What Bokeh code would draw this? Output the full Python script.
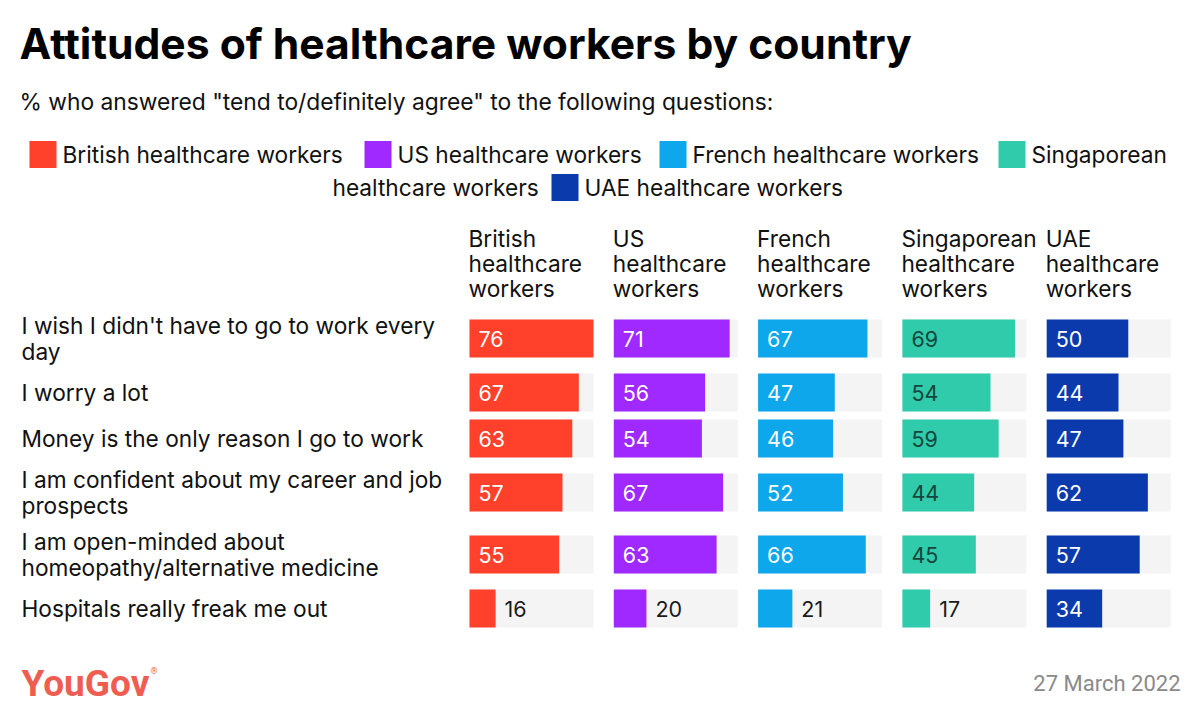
from bokeh.plotting import figure
from bokeh.models import Range1d, ColumnDataSource
from bokeh.core.properties import value
from bokeh.embed import file_html
from bokeh.resources import INLINE

# ---------------- data ----------------
title = "Attitudes of healthcare workers by country"
subtitle = '% who answered "tend to/definitely agree" to the following questions:'
statements = [
    "I wish I didn't have to go to work every\nday",
    "I worry a lot",
    "Money is the only reason I go to work",
    "I am confident about my career and job\nprospects",
    "I am open-minded about\nhomeopathy/alternative medicine",
    "Hospitals really freak me out",
]
groups = ["British healthcare workers", "US healthcare workers", "French healthcare workers",
          "Singaporean healthcare workers", "UAE healthcare workers"]
headers = ["British\nhealthcare\nworkers", "US\nhealthcare\nworkers", "French\nhealthcare\nworkers",
           "Singaporean\nhealthcare\nworkers", "UAE\nhealthcare\nworkers"]
british = [76, 67, 63, 57, 55, 16]
us = [71, 56, 54, 67, 63, 20]
french = [67, 47, 46, 52, 66, 21]
singaporean = [69, 54, 59, 44, 45, 17]
uae = [50, 44, 47, 62, 57, 34]
series = [british, us, french, singaporean, uae]
colors = ["#ff412c", "#9f29ff", "#0ea7ec", "#2fcbab", "#0a3aab"]
label_colors = ["white", "white", "white", "#17453b", "white"]
date_text = "27 March 2022"

# ---------------- layout (pixel space) ----------------
W, H = 1184, 705
FONT = "Inter"
BODY = 22.7
p = figure(width=W, height=H, output_backend="svg", toolbar_location=None,
           x_range=Range1d(0, W), y_range=Range1d(H, 0),
           min_border=0, outline_line_color=None)
p.axis.visible = False
p.grid.visible = False
p.background_fill_color = "white"
p.border_fill_color = "white"

def txt(x, y, s, size, color="#111111", align="left", style="normal", font=FONT, lh=None):
    lines = s.split("\n")
    lh = lh or size * 1.22
    n = len(lines)
    xs, ys = [], []
    for i, ln in enumerate(lines):
        xs.append(x)
        ys.append(y + (i - (n - 1) / 2) * lh)
    p.text(x=xs, y=ys, text=lines, text_font=value(font), text_font_size=f"{size}px",
           text_color=color, text_align=align, text_baseline="middle", text_font_style=style)

# title & subtitle
txt(19, 43, title, 42.6, color="#000000", style="bold", font="Inter")
txt(19, 101, subtitle, 22.8)

# legend (wrapped like the reference)
leg_sq = 27
leg_items = [
    (29, 154, 0, groups[0]), (364, 154, 1, groups[1]), (659, 154, 2, groups[2]),
    (998, 154, 3, "Singaporean"), (551, 187, 4, groups[4]),
]
for x, y, k, lab in leg_items:
    p.quad(left=[x], right=[x + leg_sq], top=[y - leg_sq / 2], bottom=[y + leg_sq / 2],
           fill_color=colors[k], line_color=None)
    txt(x + leg_sq + 6, y, lab, BODY)
txt(332, 187, "healthcare workers", BODY)

# panels
panel_x0 = [469 + j * 144.3 for j in range(5)]
panel_w = 124
row_y = [338, 392, 438, 492, 554, 608]
bar_h = 38
vmax = max(max(s) for s in series)

for i, st in enumerate(statements):
    txt(21, row_y[i], st, BODY, lh=26)

for j, vals in enumerate(series):
    x0 = panel_x0[j]
    txt(x0 - 1, 263, headers[j], BODY, lh=25)
    tops = [y - bar_h / 2 for y in row_y]
    bots = [y + bar_h / 2 for y in row_y]
    # background track
    p.quad(left=[x0] * len(vals), right=[x0 + panel_w] * len(vals), top=tops, bottom=bots,
           fill_color="#f4f4f4", line_color=None)
    rights = [x0 + v / vmax * panel_w for v in vals]
    src = ColumnDataSource(dict(left=[x0] * len(vals), right=rights, top=tops, bottom=bots))
    p.quad(left="left", right="right", top="top", bottom="bottom", source=src,
           fill_color=colors[j], line_color=None)
    for v, r, y in zip(vals, rights, row_y):
        if r - x0 > 40:
            txt(x0 + 9, y, str(v), 21.5, color=label_colors[j])
        else:
            txt(r + 9, y, str(v), 21.5, color="#1a1a1a")

# footer
txt(21, 683, "YouGov", 37, color="#ef5d50", style="bold", font="Roboto")
txt(150, 670, "\u00ae", 9, color="#ef5d50", font="Roboto")
txt(1180, 683, date_text, 22, color="#8a8a8a", align="right", font="Roboto")

open("out.html", "w").write(file_html(p, INLINE))
